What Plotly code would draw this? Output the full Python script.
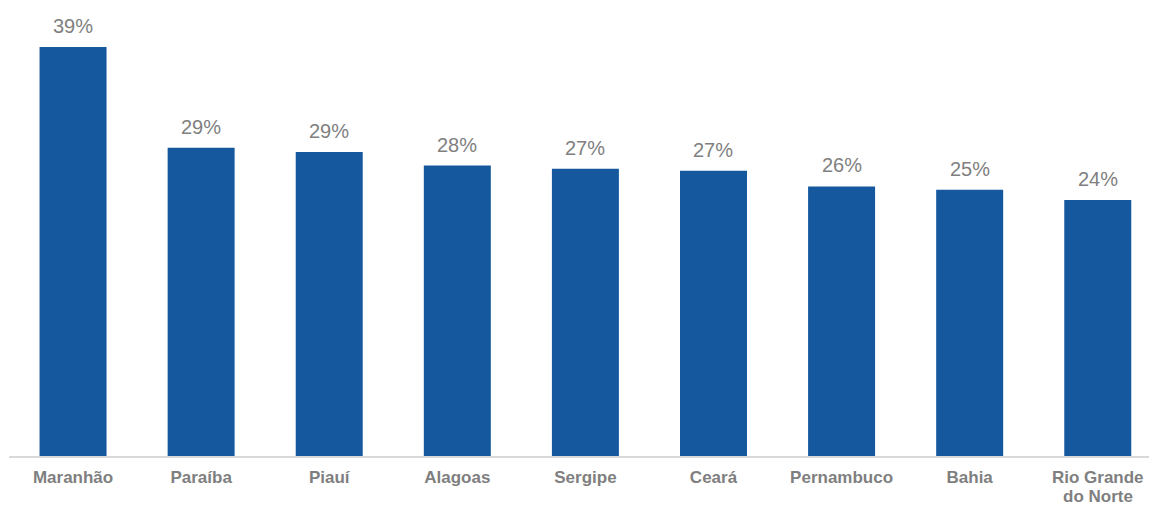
import plotly.graph_objects as go

states = ["Maranhão", "Paraíba", "Piauí", "Alagoas", "Sergipe", "Ceará",
          "Pernambuco", "Bahia", "Rio Grande do Norte"]
shares = [39.0, 29.4, 29.0, 27.7, 27.4, 27.2, 25.7, 25.4, 24.4]

# axis labels: the long name is split over two lines
tick_first_line = ["Maranhão", "Paraíba", "Piauí", "Alagoas", "Sergipe", "Ceará",
                   "Pernambuco", "Bahia", "Rio Grande"]
tick_second_line = {"Rio Grande do Norte": "do Norte"}

BAR_COLOR = "#15589E"
TEXT_GRAY = "#7F7F7F"
FONT = "Liberation Sans, Arial, sans-serif"

fig = go.Figure(
    go.Bar(
        x=states,
        y=shares,
        marker=dict(color=BAR_COLOR, line=dict(width=0)),
        width=0.523,
        hoverinfo="skip",
    )
)

# value labels above each bar
for s, v in zip(states, shares):
    fig.add_annotation(
        x=s, y=v, text=f"{v:.0f}%", showarrow=False,
        yanchor="bottom", yshift=8,
        font=dict(family=FONT, size=20, color=TEXT_GRAY),
    )

# second line of wrapped axis labels
for s, line2 in tick_second_line.items():
    fig.add_annotation(
        x=s, xref="x", y=0, yref="paper", text=line2, showarrow=False,
        yanchor="middle", yshift=-40,
        font=dict(family=FONT, size=17, color=TEXT_GRAY, weight="bold"),
    )

fig.update_layout(
    width=1149, height=507,
    margin=dict(l=9, r=0, t=10, b=51),
    plot_bgcolor="white", paper_bgcolor="white",
    showlegend=False,
    xaxis=dict(
        range=[-0.5, 8.4], automargin=False,
        tickmode="array", tickvals=states, ticktext=tick_first_line,
        showgrid=False, showline=True, linecolor="#D9D9D9", linewidth=1.5,
        ticks="", ticklabelstandoff=5,
        tickfont=dict(family=FONT, size=17, color=TEXT_GRAY, weight="bold"),
    ),
    yaxis=dict(range=[0, 42.53], visible=False, showgrid=False, zeroline=False,
               automargin=False),
)

fig.write_html("out.html")
